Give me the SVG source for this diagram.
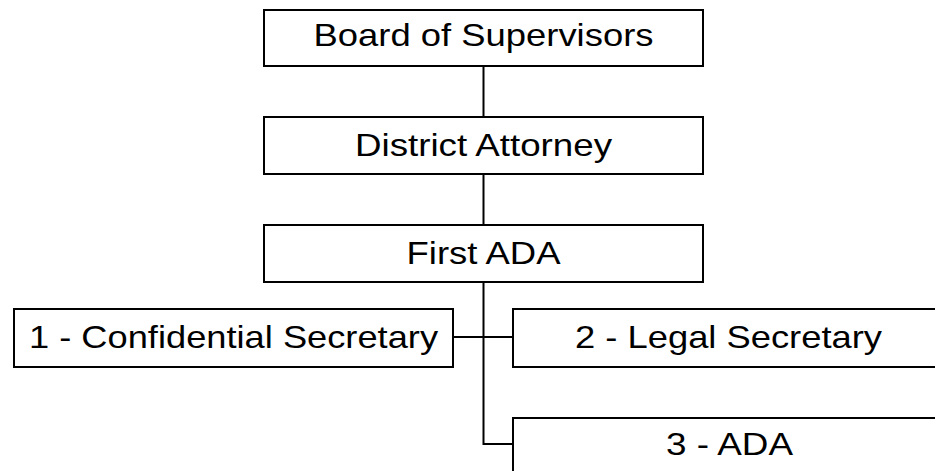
<svg xmlns="http://www.w3.org/2000/svg" width="935" height="471" viewBox="0 0 935 471">
<style>
.box{fill:#fff;stroke:#000;stroke-width:2}
.lbl{font-family:"Liberation Sans",Arial,sans-serif;font-size:32px;fill:#000;text-anchor:middle}
.con{stroke:#000;stroke-width:2;fill:none}
</style>
<rect width="935" height="471" fill="#fff"/>
<g id="connectors">
<line class="con" x1="483.5" y1="66" x2="483.5" y2="117"/>
<line class="con" x1="483.5" y1="174" x2="483.5" y2="225"/>
<polyline class="con" points="483.5,282 483.5,444 513,444"/>
<line class="con" x1="453" y1="337" x2="513" y2="337"/>
</g>
<g id="board">
<rect class="box" x="264" y="10" width="439" height="56"/>
<text class="lbl" x="483.5" y="46" textLength="340" lengthAdjust="spacingAndGlyphs">Board of Supervisors</text>
</g>
<g id="da">
<rect class="box" x="264" y="117" width="439" height="57"/>
<text class="lbl" x="483.5" y="156" textLength="257" lengthAdjust="spacingAndGlyphs">District Attorney</text>
</g>
<g id="firstada">
<rect class="box" x="264" y="225" width="439" height="57"/>
<text class="lbl" x="483.5" y="264" textLength="154" lengthAdjust="spacingAndGlyphs">First ADA</text>
</g>
<g id="confsec">
<rect class="box" x="14" y="309" width="439" height="58"/>
<text class="lbl" x="233.5" y="348" textLength="409" lengthAdjust="spacingAndGlyphs">1 - Confidential Secretary</text>
</g>
<g id="legalsec">
<rect class="box" x="513" y="309" width="439" height="58"/>
<text class="lbl" x="728.5" y="348" textLength="307" lengthAdjust="spacingAndGlyphs">2 - Legal Secretary</text>
</g>
<g id="ada">
<rect class="box" x="513" y="418" width="439" height="70"/>
<text class="lbl" x="729.5" y="455" textLength="127" lengthAdjust="spacingAndGlyphs">3 - ADA</text>
</g>
</svg>
